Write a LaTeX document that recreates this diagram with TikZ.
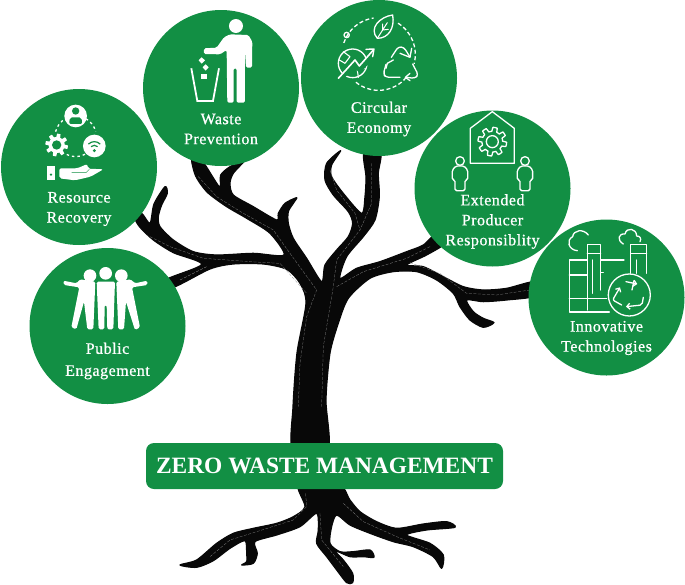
\documentclass[tikz,border=0pt]{standalone}
\usepackage{fontspec}
\setmainfont{Liberation Serif}
\newfontfamily\capfont[FakeBold=0.8,LetterSpace=3.2]{Liberation Serif}
\usetikzlibrary{arrows.meta}
\definecolor{leaf}{RGB}{18,143,68}
\definecolor{bark}{RGB}{8,8,8}
\newcommand\gearpath[2]{plot[domain=0:360,samples=145] ({(#1+#2*max(-1,min(1,3*sin(8*\x))))*cos(\x)},{(#1+#2*max(-1,min(1,3*sin(8*\x))))*sin(\x)}) -- cycle}
\tikzset{
  disc/.style={circle,fill=leaf,minimum size=156pt,inner sep=0pt},
  caption/.style={text=white,align=center,inner sep=0pt,font=\capfont\fontsize{16}{20}\selectfont},
  barkfill/.style={fill=bark,draw=bark,line width=1.2pt,line join=round},
  vein/.style={draw=white!55!black,line width=0.25pt,dash pattern=on 3pt off 1.5pt},
  iconline/.style={draw=white,line width=1.3pt,line join=round,line cap=round},
  iconfill/.style={fill=white},
  dotline/.style={draw=white,line width=1.3pt,dash pattern=on 2.5pt off 3pt},
  dashring/.style={draw=white,line width=1.3pt,dash pattern=on 4pt off 2.5pt},
  zoomA/.style={shift={(0,0)},x=0.3333pt,y=-0.3333pt},
  zoomB/.style={shift={(300,0)},x=0.3333pt,y=-0.3333pt},
  zoomC/.style={shift={(0,230)},x=0.3333pt,y=-0.3333pt},
  zoomD/.style={shift={(130,400)},x=0.3333pt,y=-0.3333pt},
  zoomE/.style={shift={(130,130)},x=0.3333pt,y=-0.3333pt},
  zoomF/.style={shift={(440,210)},x=0.3333pt,y=-0.3333pt},
}
\begin{document}
\begin{tikzpicture}[x=1pt,y=-1pt]
\useasboundingbox (0,0) rectangle (685,584);
% ---------- tree crown and trunk
\begin{scope}[zoomE]
\fill[barkfill] plot[smooth cycle,tension=0.45] coordinates {
 (185,85) (197,138) (232,187) (290,230) (350,265) (420,310) (462,375)
 (370,370) (260,375) (190,365) (130,330) (90,290) (85,260) (95,225) (112,190) (105,170)
 (72,222) (60,280) (35,250) (15,265) (30,292) (70,330) (130,368) (215,403)
 (110,448) (130,472) (240,417) (310,402) (400,402) (470,418) (510,460) (528,520)
 (501,669) (489,831) (489,960) (594,960) (588,810) (600,670) (625,580) (655,505)
 (720,445) (790,425) (860,425) (920,450) (970,490) (990,530) (1020,570) (1060,592) (1092,578)
 (1060,565) (1030,545) (1010,510) (1060,515) (1130,510) (1215,498) (1215,455) (1130,475) (1060,480)
 (1000,470) (940,440) (880,410) (830,405) (890,375) (945,340) (920,310) (880,345) (830,365)
 (750,395) (680,415) (630,445) (650,380) (700,320) (735,270) (748,200) (745,130) (752,70) (702,70)
 (708,140) (705,200) (695,250) (640,190) (605,140) (605,105) (632,62) (590,100) (585,150)
 (610,195) (655,245) (668,280) (655,320) (620,360) (585,405) (575,455) (530,385) (490,325)
 (475,280) (475,245) (490,220) (500,203) (465,220) (445,250) (440,270) (370,230) (310,195)
 (300,160) (310,130) (345,90) (300,110) (272,135) (268,170) (215,90)};
\draw[vein] (205,140) -- (260,200) -- (340,250) -- (430,300) -- (480,370) -- (560,480) -- (530,560) -- (510,700) -- (505,830);
\draw[vein] (60,320) -- (120,350) -- (220,385) -- (360,395) -- (450,400) -- (530,490);
\draw[vein] (150,450) -- (230,410);
\draw[vein] (725,100) -- (725,220) -- (690,300) -- (620,390) -- (610,470) -- (580,650) -- (575,830);
\draw[vein] (620,470) -- (700,425) -- (830,385) -- (900,350);
\draw[vein] (840,398) -- (930,430) -- (1010,490) -- (1100,495) -- (1200,480);
\draw[vein] (600,120) -- (620,180) -- (675,250) -- (690,300);
\end{scope}
% ---------- roots
\begin{scope}[zoomD]
\fill[barkfill] plot[smooth cycle,tension=0.45] coordinates {
 (505,250) (525,320) (490,350) (440,370) (370,385) (310,400) (260,430) (200,480) (150,495)
 (200,502) (250,482) (300,445) (345,422) (350,460) (350,485) (335,495)
 (370,490) (382,460) (375,425) (440,405) (510,380) (560,340)
 (565,390) (560,430) (590,470) (620,510) (650,548) (668,548) (668,520) (640,480) (615,452)
 (660,470) (700,470) (732,472) (720,450) (670,455) (630,455) (600,430) (605,380) (620,345)
 (660,375) (720,400) (790,425) (850,440) (910,470) (935,505) (940,465) (900,430) (830,405)
 (890,390) (975,382) (950,365) (880,372) (800,385) (740,365) (690,335) (660,300) (625,250)};
\draw[vein] (527,280) -- (530,320) -- (490,360) -- (380,395) -- (300,420) -- (240,470);
\draw[vein] (570,340) -- (575,420) -- (640,500);
\draw[vein] (640,310) -- (700,365) -- (800,410) -- (900,450);
\end{scope}
% ---------- discs
\node[disc] (waste) at (221,88) {};
\node[disc] (resource) at (79,167) {};
\node[disc] (circular) at (379,78) {};
\node[disc] (extended) at (492.5,188.5) {};
\node[disc] (innovative) at (606.5,297.5) {};
\node[disc] (public) at (107.5,326) {};
% ---------- banner
\node[fill=leaf,rounded corners=8pt,minimum width=357pt,minimum height=46pt,inner sep=0pt,
      text=white,font=\fontsize{23.4}{28}\selectfont\bfseries] (banner) at (324.5,466) {ZERO WASTE MANAGEMENT};
% ---------- captions
\node[caption] (wasteText) at (221,129) {Waste\\Prevention};
\node[caption] (resourceText) at (79,209) {Resource\\Recovery};
\node[caption] (circularText) at (379,119) {Circular\\Economy};
\node[caption] (extendedText) at (492.5,221.5) {Extended\\Producer\\Responsiblity};
\node[caption,font=\capfont\fontsize{16}{22}\selectfont] (publicText) at (107.5,361) {Public\\Engagement};
\node[caption] (innovativeText) at (606.5,338) {Innovative\\Technologies};
% ---------- waste prevention icon
\begin{scope}[zoomA]
\fill[iconfill] (708,78) circle (21);
\fill[iconfill,rounded corners=1.5pt] (612,145) -- (650,143) -- (672,112) -- (690,103) -- (745,105) -- (757,125) -- (756,203) -- (738,203) -- (735,150) -- (735,308) -- (710,308) -- (710,205) -- (701,205) -- (701,308) -- (682,308) -- (680,150) -- (660,163) -- (612,162) -- cycle;
\draw[iconline,line width=1.8pt,line cap=butt,line join=miter] (574,205) -- (592,303) -- (639,303) -- (657,205);
\fill[iconfill] (605,172) -- (615,181) -- (605,191) -- (596,181) -- cycle;
\fill[iconfill] (617,193) -- (626,202) -- (617,212) -- (608,202) -- cycle;
\fill[iconfill] (604,221) rectangle (620,236);
% ---------- resource recovery icon
\fill[iconfill] (227,348) circle (34);
\fill[leaf] (227,333) circle (11);
\fill[leaf,rounded corners=2pt] (207,372) -- (210,352) -- (244,352) -- (247,372) -- cycle;
\draw[dotline] (227,410) ++(194:62) arc (194:240:62);
\draw[dotline] (227,410) ++(300:62) arc (300:346:62);
\draw[dotline] (227,410) ++(62:60) arc (62:118:60);
\begin{scope}[shift={(170,435)}]
\fill[iconfill] \gearpath{29}{5};
\fill[leaf] (0,0) circle (14);
\end{scope}
\fill[iconfill] (283,438) circle (34);
\draw[leaf,line width=1.2pt] (283,450) ++(225:25) arc (225:315:25);
\draw[leaf,line width=1.2pt] (283,450) ++(225:14) arc (225:315:14);
\fill[leaf] (283,452) circle (5);
\fill[iconfill] (140,497) rectangle (166,541);
\fill[leaf] (153,524) circle (4);
\fill[iconfill,rounded corners=2pt] (178,505) -- (232,505) -- (262,492) -- (264,506) -- (310,508) -- (272,530) -- (225,541) -- (178,535) -- cycle;
\draw[leaf,line width=0.4pt] (215,518) -- (258,518) -- (268,508);
\end{scope}
% ---------- circular economy icon
\begin{scope}[zoomB]
\draw[dashring] (236,163) ++(-58:110) arc (-58:15:110);
\draw[dashring] (236,163) ++(40:108) arc (40:130:108);
\draw[dashring] (236,163) ++(198:110) arc (198:262:110);
\draw[iconline] (140,105) circle (8);
\draw[iconline] (232,115) .. controls (205,85) and (240,50) .. (278,45) .. controls (285,85) and (265,115) .. (232,115) -- cycle;
\draw[iconline,line width=1pt] (232,115) -- (262,68) (248,90) -- (248,72) (248,90) -- (265,88);
\draw[iconline] (158,190) circle (43);
\draw[iconline,line width=1.1pt] (130,155) -- (150,170) -- (135,190) -- (118,180) (175,232) -- (172,210) -- (195,205);
\fill[leaf] (115,235) -- (160,180) -- (175,200) -- (222,148) -- (230,165) -- (180,220) -- (165,205) -- (120,245) -- cycle;
\draw[iconline,line width=1.6pt] (115,235) -- (165,180) -- (178,198) -- (220,150);
\draw[iconline,line width=1.4pt] (198,148) -- (222,147) -- (218,170);
\draw[iconline,rounded corners=3pt] (258,193) -- (250,222) -- (258,232) -- (300,232);
\draw[iconline] (280,180) -- (262,190) -- (258,205);
\draw[iconline,rounded corners=3pt] (274,172) -- (295,140) -- (312,142) -- (328,168);
\draw[iconline] (300,160) -- (330,172) -- (335,145);
\draw[iconline,rounded corners=3pt] (338,192) -- (355,225) -- (345,235) -- (318,232);
\draw[iconline] (330,220) -- (316,232) -- (330,242);
\end{scope}
% ---------- extended producer icon
\begin{scope}[zoomB]
\draw[iconline] (511,490) -- (511,385) -- (577,335) -- (643,385) -- (643,490) -- cycle;
\begin{scope}[shift={(577,425)}]
\draw[iconline] \gearpath{37}{6};
\draw[iconline] (0,0) circle (18);
\end{scope}
\foreach \px/\nm in {480/leftP,675/rightP}{
\begin{scope}[shift={(\px,0)}]
\draw[iconline] (0,483) circle (13);
\draw[iconline,rounded corners=1.5pt] (-23,540) -- (-23,510) -- (-12,498) -- (12,498) -- (23,510) -- (23,540) -- (15,540) -- (15,572) -- (-15,572) -- (-15,540) -- cycle;
\end{scope}}
\end{scope}
% ---------- innovative technologies icon
\begin{scope}[zoomF]
\draw[iconline] (412,122) .. controls (385,120) and (378,90) .. (398,80) .. controls (400,60) and (430,55) .. (445,75);
\draw[iconline] (550,102) .. controls (530,90) and (535,70) .. (555,72) .. controls (560,50) and (590,55) .. (590,78) .. controls (600,78) and (605,85) .. (600,95);
\draw[iconline] (442,300) -- (442,103) -- (482,103) -- (482,240);
\draw[iconline] (442,130) -- (482,130);
\draw[iconline] (458,150) -- (458,250);
\draw[iconline] (572,190) -- (572,103) -- (620,103) -- (620,190);
\draw[iconline] (572,130) -- (620,130);
\draw[iconline] (590,150) -- (590,190);
\draw[iconline] (442,150) -- (388,150) -- (388,306) -- (508,306);
\draw[iconline] (388,195) -- (442,195);
\draw[iconline] (388,266) -- (500,266);
\draw[iconline] (482,150) -- (552,150);
\draw[iconline] (484,188) -- (490,188);
\draw[iconline,fill=leaf] (568,255) circle (63);
\draw[iconline,-{Straight Barb[length=3pt,width=6pt]}] (558,215) -- (592,222);
\draw[iconline] (582,212) -- (576,240);
\draw[iconline,rounded corners=2pt,-{Straight Barb[length=3pt,width=6pt]}] (545,285) -- (518,270) -- (540,232);
\draw[iconline,rounded corners=2pt,-{Straight Barb[length=3pt,width=6pt]}] (610,262) -- (606,285) -- (558,290);
\end{scope}
% ---------- public engagement icon
\begin{scope}[zoomC]
\fill[iconfill] (270,137) circle (19);
\fill[iconfill] (317,130) circle (19);
\fill[iconfill] (364,137) circle (19);
\fill[iconfill,rounded corners=1.5pt] (290,155) -- (345,155) -- (340,298) -- (322,298) -- (320,225) -- (314,225) -- (313,298) -- (296,298) -- cycle;
\fill[iconfill,rounded corners=1.5pt] (190,152) -- (230,160) -- (240,148) -- (286,155) -- (280,298) -- (262,298) -- (252,215) -- (229,298) -- (214,292) -- (238,172) -- (192,165) -- cycle;
\fill[iconfill,rounded corners=1.5pt] (442,152) -- (405,160) -- (392,148) -- (349,155) -- (355,298) -- (372,298) -- (378,215) -- (405,300) -- (420,292) -- (396,172) -- (442,165) -- cycle;
\end{scope}
\end{tikzpicture}
\end{document}
